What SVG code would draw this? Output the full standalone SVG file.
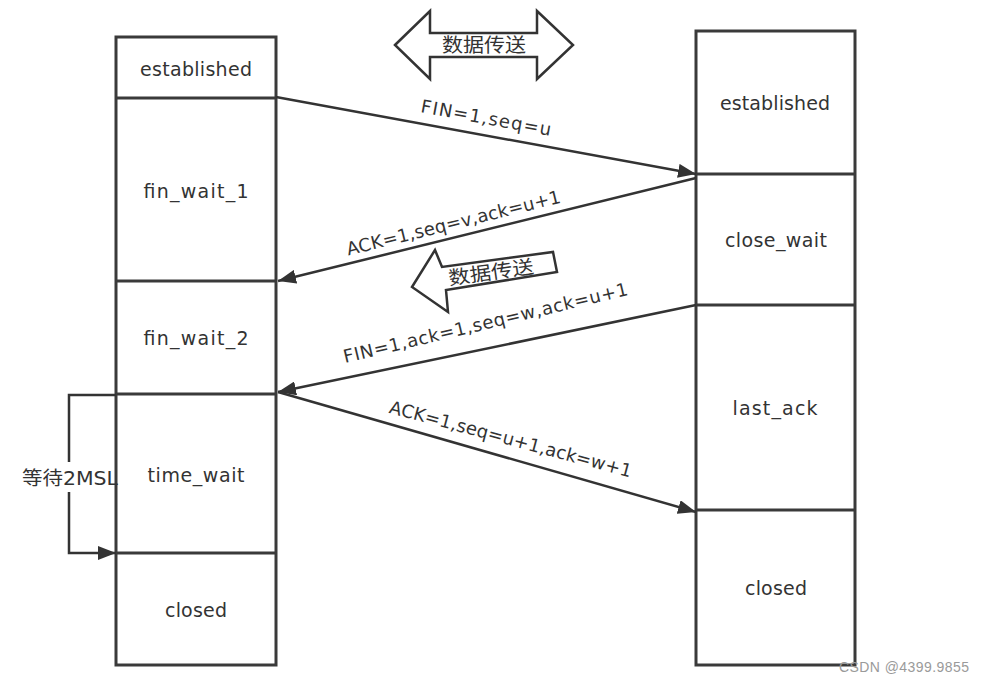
<svg xmlns="http://www.w3.org/2000/svg" width="986" height="681" viewBox="0 0 986 681">
<style>
.box{fill:none;stroke:#3a3a3a;stroke-width:3}
.div{stroke:#3a3a3a;stroke-width:3}
.st{font-family:"DejaVu Sans","Liberation Sans",sans-serif;font-size:19px;fill:#333;text-anchor:middle}
.lb{font-family:"DejaVu Sans","Liberation Sans",sans-serif;font-size:18px;fill:#333;text-anchor:middle}
.cn{font-family:"DejaVu Sans","Noto Sans CJK SC",sans-serif;font-size:19px;fill:#333;text-anchor:middle}
.ln{fill:none;stroke:#333;stroke-width:2.5}
.big{fill:#fff;stroke:#333;stroke-width:2.5}
</style>
<defs>
<marker id="ah" markerUnits="userSpaceOnUse" markerWidth="20" markerHeight="14" refX="18" refY="7" orient="auto">
<path d="M0,0 L18,7 L0,14 Z" fill="#333"/>
</marker>
</defs>
<rect width="986" height="681" fill="#fff"/>

<g id="left-column">
<rect class="box" x="116" y="37" width="160" height="628"/>
<line class="div" x1="116" y1="98" x2="276" y2="98"/>
<line class="div" x1="116" y1="281" x2="276" y2="281"/>
<line class="div" x1="116" y1="394" x2="276" y2="394"/>
<line class="div" x1="116" y1="553" x2="276" y2="553"/>
</g>
<g id="l-established"><text class="st" x="196" y="76" textLength="112" lengthAdjust="spacing">established</text></g>
<g id="l-fin_wait_1"><text class="st" x="196" y="198" textLength="105" lengthAdjust="spacing">fin_wait_1</text></g>
<g id="l-fin_wait_2"><text class="st" x="196" y="345" textLength="105" lengthAdjust="spacing">fin_wait_2</text></g>
<g id="l-time_wait"><text class="st" x="196" y="482" textLength="97" lengthAdjust="spacing">time_wait</text></g>
<g id="l-closed"><text class="st" x="196" y="617" textLength="62" lengthAdjust="spacing">closed</text></g>

<g id="right-column">
<rect class="box" x="696" y="31" width="159" height="634"/>
<line class="div" x1="696" y1="174" x2="855" y2="174"/>
<line class="div" x1="696" y1="305" x2="855" y2="305"/>
<line class="div" x1="696" y1="510" x2="855" y2="510"/>
</g>
<g id="r-established"><text class="st" x="775" y="110" textLength="110" lengthAdjust="spacing">established</text></g>
<g id="r-close_wait"><text class="st" x="776" y="247" textLength="102" lengthAdjust="spacing">close_wait</text></g>
<g id="r-last_ack"><text class="st" x="775" y="415" textLength="85" lengthAdjust="spacing">last_ack</text></g>
<g id="r-closed"><text class="st" x="776" y="595" textLength="62" lengthAdjust="spacing">closed</text></g>

<g id="data-transfer-both">
<path class="big" d="M395,45 L430,11 L430,33 L537,33 L537,11 L573,45 L537,79 L537,57 L430,57 L430,79 Z"/>
<text class="cn" x="484" y="52" textLength="84" lengthAdjust="spacingAndGlyphs">数据传送</text>
</g>

<g id="data-transfer-left">
<path class="big" d="M412,287 L435,250 L442,267 L553,252 L557,272 L446,290 L448,312 Z"/>
<text class="cn" x="0" y="0" transform="translate(492,279) rotate(-8)" font-size="17" textLength="86" lengthAdjust="spacingAndGlyphs">数据传送</text>
</g>

<g id="connectors">
<line class="ln" x1="276" y1="97" x2="696" y2="174" marker-end="url(#ah)"/>
<line class="ln" x1="696" y1="178" x2="278" y2="281" marker-end="url(#ah)"/>
<line class="ln" x1="696" y1="305" x2="278" y2="392" marker-end="url(#ah)"/>
<line class="ln" x1="278" y1="392" x2="696" y2="512" marker-end="url(#ah)"/>
<path class="ln" d="M116,395 L69,395 L69,462"/>
<path class="ln" d="M69,492 L69,553 L116,553" marker-end="url(#ah)"/>
</g>

<g id="labels">
<text class="lb" transform="translate(485,124) rotate(10.4)" textLength="132" lengthAdjust="spacing">FIN=1,seq=u</text>
<text class="lb" transform="translate(455,229) rotate(-14)" textLength="220" lengthAdjust="spacing">ACK=1,seq=v,ack=u+1</text>
<text class="lb" transform="translate(487,329) rotate(-13.5)" textLength="292" lengthAdjust="spacing">FIN=1,ack=1,seq=w,ack=u+1</text>
<text class="lb" transform="translate(509,445) rotate(15)" textLength="250" lengthAdjust="spacing">ACK=1,seq=u+1,ack=w+1</text>
<text class="cn" x="70" y="485" font-size="16" textLength="96" lengthAdjust="spacingAndGlyphs">等待2MSL</text>
</g>

<text x="904" y="672" font-family="Liberation Sans, sans-serif" font-size="14" fill="#9a9a9a" text-anchor="middle" textLength="130" lengthAdjust="spacing">CSDN @4399.9855</text>
</svg>
